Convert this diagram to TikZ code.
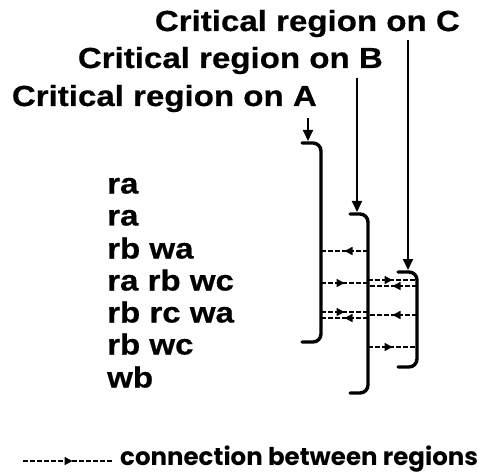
\documentclass[tikz,border=0pt]{standalone}
\usepackage{fontspec}
\newfontfamily\crfont{Liberation Sans}[FakeStretch=1.14, BoldFeatures={FakeBold=0.6}]
\newfontfamily\legfont{Poppins}
\usetikzlibrary{arrows.meta, decorations.markings, calc}

\begin{document}
\begin{tikzpicture}[
    x=1pt, y=-1pt,
    title/.style={font=\crfont\bfseries\fontsize{29}{29}\selectfont, inner sep=0pt, anchor=base east},
    row/.style={font=\crfont\bfseries\fontsize{29}{29}\selectfont, inner sep=0pt, anchor=west, text height=15pt, text depth=0pt},
    legend/.style={font=\legfont\bfseries\fontsize{24.5}{24.5}\selectfont, inner sep=0pt, anchor=base west, text depth=0pt},
    region/.style={line width=3.4pt, rounded corners=8pt, line cap=round},
    entry/.style={-{Triangle[length=11pt, width=10pt]}, line width=2pt},
    conn/.style={line width=1.5pt, dash pattern=on 5pt off 2pt, postaction={decorate},
        decoration={markings, mark=at position #1 with {\arrow{Triangle[length=8pt, width=8pt]}}}},
    conn/.default=0.5
]
\useasboundingbox (0,0) rectangle (479,473);
\node[title] (titleC) at (460,31) {Critical region on C};
\node[title] (titleB) at (383,68) {Critical region on B};
\node[title] (titleA) at (317,106) {Critical region on A};
\node[row] (r1) at (107,186) {ra};
\node[row] (r2) at (107,218) {ra};
\node[row] (r3) at (107,251) {rb wa};
\node[row] (r4) at (107,283) {ra rb wc};
\node[row] (r5) at (107,315) {rb rc wa};
\node[row] (r6) at (107,347) {rb wc};
\node[row] (r7) at (107,380) {wb};
\coordinate (xA) at (321,0);
\coordinate (xB) at (368,0);
\coordinate (xC) at (417,0);
\coordinate (inA) at (308,118);
\coordinate (topA) at (308,141);
\coordinate (inB) at (357,78);
\coordinate (topB) at (357,212);
\coordinate (inC) at (408,40);
\coordinate (topC) at (408,270);
\draw[region] (302,143) -| (321,342) -- (302,342);
\draw[region] (350,214) -| (368,393) -- (350,393);
\draw[region] (398,272) -| (417,367) -- (398,367);
\draw[entry] (inA) -- (topA);
\draw[entry] (inB) -- (topB);
\draw[entry] (inC) -- (topC);
\draw[conn] (r3 -| xB) -- (r3 -| xA);
\draw[conn] (r4 -| xA) -- (r4 -| xB);
\draw[conn] ($(r4 -| xB)+(0,-3)$) -- ($(r4 -| xC)+(0,-3)$);
\draw[conn] ($(r4 -| xC)+(0,3)$) -- ($(r4 -| xB)+(0,3)$);
\draw[conn] ($(r5 -| xA)+(0,-3)$) -- ($(r5 -| xB)+(0,-3)$);
\draw[conn] ($(r5 -| xB)+(0,3)$) -- ($(r5 -| xA)+(0,3)$);
\draw[conn] (r5 -| xC) -- (r5 -| xB);
\draw[conn] (r6 -| xB) -- (r6 -| xC);
\coordinate (legS) at (23,461);
\coordinate (legE) at (113,461);
\draw[conn=0.55] (legS) -- (legE);
\node[legend] (legtext) at (120,465) {connection between regions};
\end{tikzpicture}
\end{document}
